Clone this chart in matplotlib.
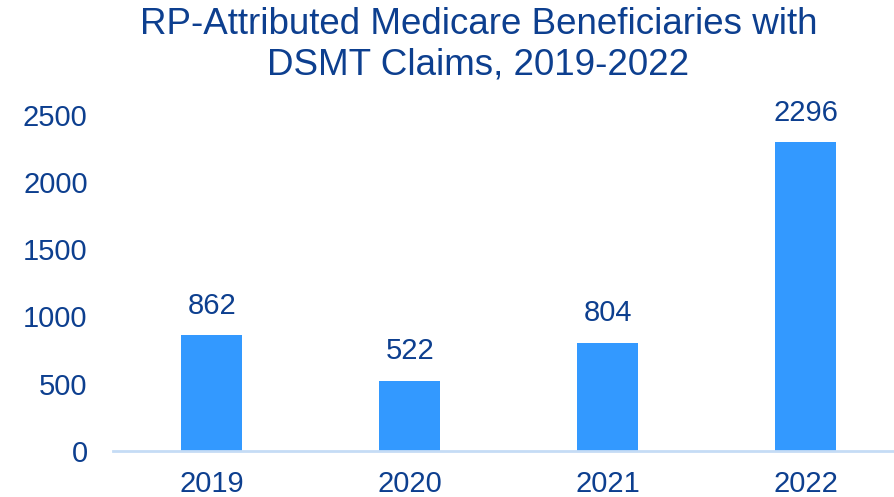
import numpy as np
import matplotlib.pyplot as plt

years = ['2019', '2020', '2021', '2022']
counts = [862, 522, 804, 2296]
yticks = [0, 500, 1000, 1500, 2000, 2500]

plt.rcParams['font.family'] = ['Liberation Sans', 'DejaVu Sans']
txt = '#0D3F8F'

fig = plt.figure(figsize=(8.94, 4.97), dpi=100)
ax = fig.add_axes([0.126, 0.0926, 0.886, 0.677])
x = np.arange(len(years))
ax.bar(x, counts, width=0.31, color='#3399FF', zorder=2)
for xi, v in zip(x, counts):
    ax.annotate(str(v), (xi, v), xytext=(0, 11), textcoords='offset points',
                ha='center', va='bottom', fontsize=21, color=txt)

ax.set_xlim(-0.5, 3.5)
ax.set_ylim(0, 2500)
ax.set_yticks(yticks)
ax.set_xticks(x)
ax.set_xticklabels(years)
ax.tick_params(axis='both', length=0, labelsize=21, labelcolor=txt)
ax.tick_params(axis='y', pad=18)
ax.tick_params(axis='x', pad=14)
for s in ['top', 'right', 'left']:
    ax.spines[s].set_visible(False)
ax.spines['bottom'].set_color('#C5DCF5')
ax.spines['bottom'].set_linewidth(2)

fig.text(0.535, 0.985, 'RP-Attributed Medicare Beneficiaries with\nDSMT Claims, 2019-2022',
         ha='center', va='top', fontsize=26.5, color=txt, linespacing=1.2)

fig.savefig('out.png', dpi=100)
